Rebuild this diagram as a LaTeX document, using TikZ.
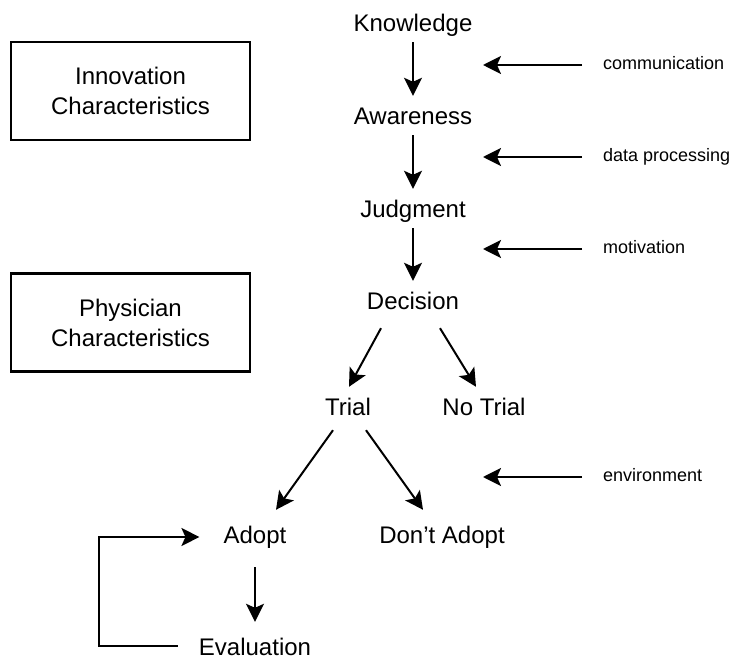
\documentclass[tikz,border=0pt]{standalone}
\usepackage{fontspec}
\setmainfont{Liberation Sans}
\usetikzlibrary{arrows.meta}
\begin{document}
\begin{tikzpicture}[x=1pt, y=-1pt,
  stage/.style={anchor=base, font=\fontsize{24}{30}\selectfont, text height=17pt, text depth=5pt, inner xsep=4pt, inner ysep=5pt},
  factor/.style={anchor=base west, font=\fontsize{18}{22}\selectfont, text height=13pt, text depth=4pt, inner sep=0pt},
  group/.style={draw, line width=2.2pt, minimum width=239pt, minimum height=98pt, align=center, font=\fontsize{24}{30}\selectfont, inner sep=0pt},
  flow/.style={-{Stealth[length=18pt, width=18pt, inset=4pt]}, line width=2pt}]
\useasboundingbox (0,0) rectangle (742,660);

\node[group] (Innovation) at (130.5,91) {Innovation\\Characteristics};
\node[group] (Physician) at (130.5,322.5) {Physician\\Characteristics};

\node[stage] (Knowledge) at (413,32) {Knowledge};
\node[stage] (Awareness) at (413,125) {Awareness};
\node[stage] (Judgment) at (413,218) {Judgment};
\node[stage] (Decision) at (413,310) {Decision};
\node[stage] (Trial) at (348,416) {Trial};
\node[stage] (NoTrial) at (484,416) {No Trial};
\node[stage] (Adopt) at (255,543) {Adopt};
\node[stage] (DontAdopt) at (442,543) {Don’t Adopt};
\node[stage] (Evaluation) at (255,655) {Evaluation};

\node[factor] (communication) at (603,69.5) {communication};
\node[factor] (dataprocessing) at (603,161.5) {data processing};
\node[factor] (motivation) at (603,253.5) {motivation};
\node[factor] (environment) at (603,481.5) {environment};
\coordinate (Column) at (483,0);

\draw[flow, shorten >=7pt] (Knowledge) -- (Awareness);
\draw[flow, shorten >=7pt] (Awareness) -- (Judgment);
\draw[flow, shorten >=7pt] (Judgment) -- (Decision);
\draw[flow] ([xshift=-32pt, yshift=-8pt]Decision.south) -- ([xshift=1pt, yshift=7pt]Trial.north);
\draw[flow] ([xshift=27pt, yshift=-8pt]Decision.south) -- ([xshift=-8pt, yshift=7pt]NoTrial.north);
\draw[flow] ([xshift=-15pt, yshift=-4pt]Trial.south) -- ([xshift=21pt, yshift=11pt]Adopt.north);
\draw[flow] ([xshift=18pt, yshift=-4pt]Trial.south) -- ([xshift=-19pt, yshift=11pt]DontAdopt.north);
\draw[flow] ([yshift=-14pt]Adopt.south) -- ([yshift=11pt]Evaluation.north);
\draw[flow, shorten <=17pt, shorten >=20pt] ([yshift=3pt]Evaluation.west) -- ++(-96,0) |- (Adopt.west);

\draw[flow, shorten <=21pt] (communication.west) -- (communication.west -| Column);
\draw[flow, shorten <=21pt] (dataprocessing.west) -- (dataprocessing.west -| Column);
\draw[flow, shorten <=21pt] (motivation.west) -- (motivation.west -| Column);
\draw[flow, shorten <=21pt] (environment.west) -- (environment.west -| Column);

\end{tikzpicture}
\end{document}
